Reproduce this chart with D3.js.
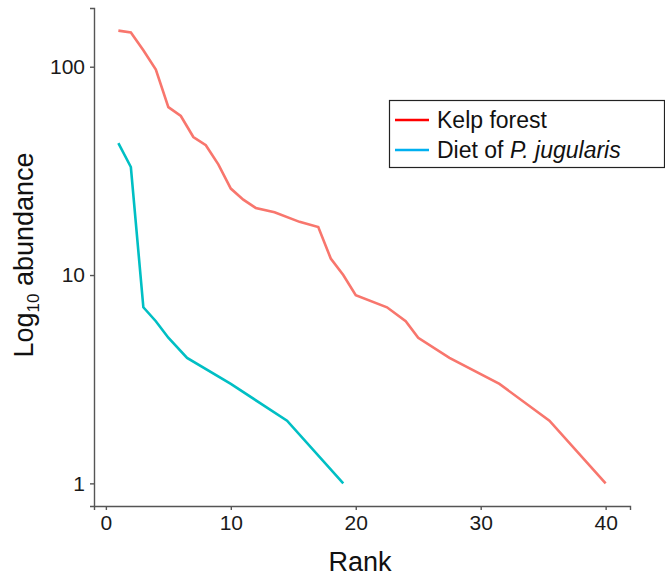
<!DOCTYPE html>
<html>
<head>
<meta charset="utf-8">
<script src="https://cdn.jsdelivr.net/npm/d3@7"></script>
<style>
	body { margin: 0; background: #fff; }
	text { font-family: "Liberation Sans", Arial, sans-serif; }
</style>
</head>
<body>
<div id="chart"></div>
<script>
// rank / abundance (tied ranks are averaged, hence the .5)
var kelpRank = [1, 2, 3, 4, 5, 6, 7, 8, 9, 10, 11, 12, 13.5, 15.5, 17, 18, 19, 20, 22.5, 24, 25, 27.5, 31.5, 35.5, 40];
var kelpAbund = [149, 146, 120, 97, 64, 58, 46, 42, 34, 26, 23, 21, 20, 18, 17, 12, 10, 8, 7, 6, 5, 4, 3, 2, 1];
var dietRank = [1, 2, 3, 4, 5, 6.5, 10, 14.5, 19];
var dietAbund = [43, 33, 7, 6, 5, 4, 3, 2, 1];

var seriesNames = ["Kelp forest", "Diet of "];
var xTicks = [0, 10, 20, 30, 40];
var yTicks = [1, 10, 100];

var width = 665, height = 577;
// note: "top" is taken by window.top, so prefix these
var plotLeft = 94, plotRight = 630, plotTop = 8, plotBottom = 506;

var svg = d3.select("#chart").append("svg")
	.attr("width", width)
	.attr("height", height);

// ggplot style 5% padding
var xr = [1, 40];
var xpad = (xr[1] - xr[0]) * 0.05;
var x = d3.scaleLinear()
	.domain([xr[0] - xpad, xr[1] + xpad])
	.range([plotLeft, plotRight]);

var lmax = Math.log10(d3.max(kelpAbund));
var ypad = lmax * 0.05;
var y = d3.scaleLog()
	.domain([Math.pow(10, -ypad), Math.pow(10, lmax + ypad)])
	.range([plotBottom, plotTop]);

function pairs(r, a) {
	return r.map(function(d, i) { return [d, a[i]]; });
}

var line = d3.line()
	.x(function(d) { return x(d[0]); })
	.y(function(d) { return y(d[1]); });

svg.append("path")
	.datum(pairs(kelpRank, kelpAbund))
	.attr("d", line)
	.style("fill", "none")
	.style("stroke", "#F8766D")
	.style("stroke-width", 2.6);

svg.append("path")
	.datum(pairs(dietRank, dietAbund))
	.attr("d", line)
	.style("fill", "none")
	.style("stroke", "#00BFC4")
	.style("stroke-width", 2.6);

// axes
var xAxis = svg.append("g")
	.attr("transform", "translate(0," + plotBottom + ")")
	.call(d3.axisBottom(x).tickValues(xTicks).tickSize(4).tickPadding(5).tickFormat(d3.format("d")));
var yAxis = svg.append("g")
	.attr("transform", "translate(" + plotLeft + ",0)")
	.call(d3.axisLeft(y).tickValues(yTicks).tickSize(4).tickPadding(5).tickFormat(d3.format("d")));

[xAxis, yAxis].forEach(function(g) {
	g.select(".domain").style("stroke", "#555").style("stroke-width", 1.4);
	g.selectAll(".tick line").style("stroke", "#555").style("stroke-width", 1.4);
	g.selectAll(".tick text")
		.style("font-family", "Liberation Sans, Arial, sans-serif")
		.style("font-size", "21px")
		.style("fill", "#1a1a1a");
});

// axis titles
svg.append("text")
	.attr("x", 360)
	.attr("y", 571)
	.attr("text-anchor", "middle")
	.style("font-size", "27px")
	.style("fill", "#111")
	.text("Rank");

var ytitle = svg.append("text")
	.attr("transform", "translate(33,255) rotate(-90)")
	.attr("text-anchor", "middle")
	.style("font-size", "27px")
	.style("fill", "#111");
ytitle.append("tspan").text("Log");
ytitle.append("tspan").attr("dy", 6).style("font-size", "17px").text("10");
ytitle.append("tspan").attr("dy", -6).text(" abundance");

// legend
var legend = svg.append("g");
legend.append("rect")
	.attr("x", 389.5)
	.attr("y", 100.5)
	.attr("width", 275)
	.attr("height", 67)
	.style("fill", "#fff")
	.style("stroke", "#222")
	.style("stroke-width", 1.2);

var legColors = ["#ff0000", "#00b0f0"];
var legY = [120, 150];
seriesNames.forEach(function(name, i) {
	legend.append("line")
		.attr("x1", 395).attr("x2", 429)
		.attr("y1", legY[i]).attr("y2", legY[i])
		.style("stroke", legColors[i])
		.style("stroke-width", 2.6);
	var t = legend.append("text")
		.attr("x", 437)
		.attr("y", legY[i] + 8)
		.style("font-size", "23px")
		.style("fill", "#111")
		.text(name);
	if (i == 1) {
		t.append("tspan").style("font-style", "italic").text("P. jugularis");
	}
});
</script>
</body>
</html>
